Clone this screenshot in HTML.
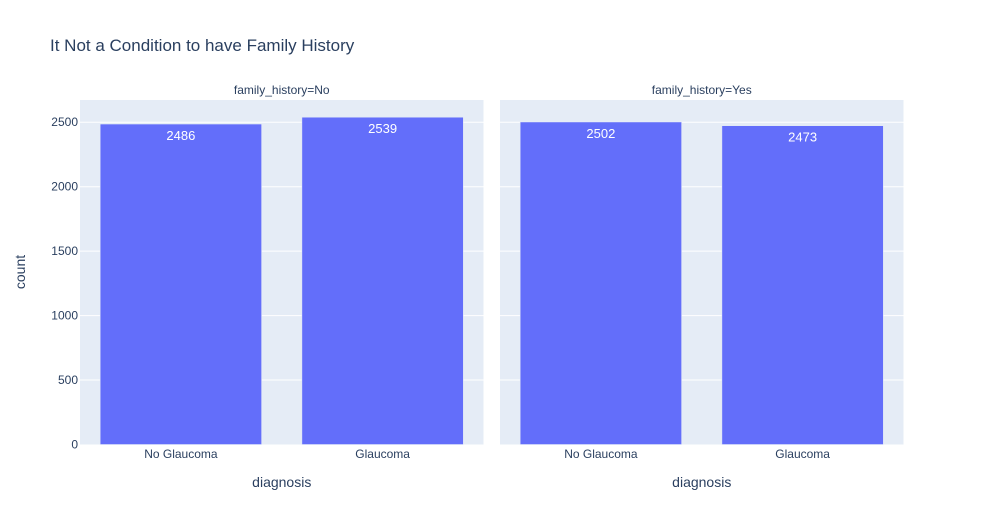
<!DOCTYPE html>
<html><head><meta charset="utf-8"><style>
body{margin:0;background:#fff;}
svg{display:block;font-family:"Liberation Sans",Arial,sans-serif;}
</style></head><body>
<svg id="chart" width="983" height="525"></svg>
<script>
const panels=["family_history=No","family_history=Yes"];
const categories=["No Glaucoma","Glaucoma"];
const valuesNo=[2486,2539];
const valuesYes=[2502,2473];
const yTicks=[0,500,1000,1500,2000,2500];
const series=[valuesNo,valuesYes];

const NS="http://www.w3.org/2000/svg";
const svgEl=document.getElementById('chart');
function mk(t,a,txt){const e=document.createElementNS(NS,t);for(const k in a)e.setAttribute(k,a[k]);if(txt!=null)e.textContent=txt;svgEl.appendChild(e);return e;}
const plotTop=100,plotBottom=444.5,pw=403.5,px=[80,500];
const ymax=Math.max(...valuesNo,...valuesYes)*1.0526;
const yScale=v=>plotBottom-(v/ymax)*(plotBottom-plotTop);

let t=mk('text',{x:50,y:51,'font-size':17,fill:'#2a3f5f'},'It Not a Condition to have Family History');



panels.forEach((p,pi)=>{
  const x0=px[pi];
  let bg=mk('rect',{x:x0,y:plotTop,width:pw,height:plotBottom-plotTop,fill:'#e5ecf6'});
  
  
  yTicks.forEach(v=>{
    if(v>0){let g=mk('line',{x1:x0,x2:x0+pw,y1:yScale(v),y2:yScale(v),stroke:'#fff','stroke-width':1});
    
    }
    if(pi===0){let l=mk('text',{x:78,y:yScale(v)+4,'font-size':12,fill:'#2a3f5f','text-anchor':'end'},String(v));
    
    }
  });
  let h=mk('text',{x:x0+pw/2,y:94,'font-size':12,fill:'#2a3f5f','text-anchor':'middle'},p);
  
  
  const bw=pw/categories.length;
  categories.forEach((c,ci)=>{
    const v=series[pi][ci];
    const bx=x0+bw*ci+bw*0.1;
    let b=mk('rect',{x:bx,y:yScale(v),width:bw*0.8,height:plotBottom-yScale(v),fill:'#636efa',stroke:'#e5ecf6','stroke-width':0.5});
    
    
    let vl=mk('text',{x:bx+bw*0.4,y:yScale(v)+16,'font-size':13,fill:'#fff','text-anchor':'middle'},String(v));
    
    
    let xl=mk('text',{x:x0+bw*ci+bw/2,y:458,'font-size':12,fill:'#2a3f5f','text-anchor':'middle'},c);
    
    
  });
  let xt=mk('text',{x:x0+pw/2,y:487,'font-size':14,fill:'#2a3f5f','text-anchor':'middle'},'diagnosis');
  
  
});
let yt=mk('text',{x:0,y:0,'font-size':14,fill:'#2a3f5f','text-anchor':'middle',transform:'translate(25,272) rotate(-90)'},'count');


</script>
</body></html>
